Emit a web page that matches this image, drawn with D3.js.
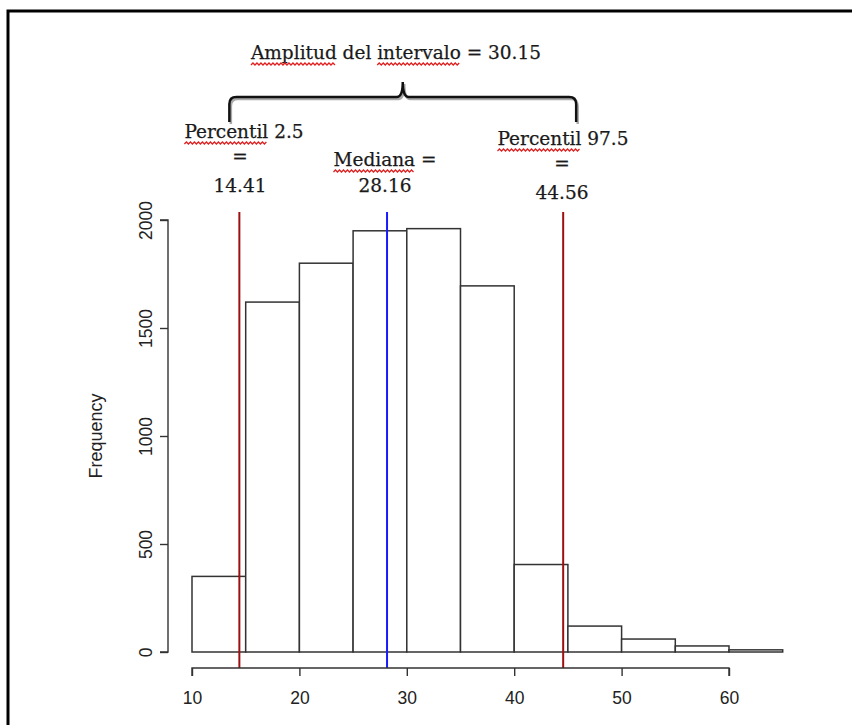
<!DOCTYPE html>
<html>
<head>
<meta charset="utf-8">
<script src="https://cdn.jsdelivr.net/npm/d3@7"></script>
<style>
  body { margin: 0; background: #fff; }
  svg { display: block; }
</style>
</head>
<body>
<svg id="chart"></svg>
<script>
// histogram bins (5 wide) and counts
const binStarts = [10, 15, 20, 25, 30, 35, 40, 45, 50, 55, 60]
const counts = [350, 1620, 1800, 1950, 1960, 1695, 405, 120, 60, 28, 10]
const binWidth = 5

const xTicks = [10, 20, 30, 40, 50, 60]
const yTicks = [0, 500, 1000, 1500, 2000]

// summary lines
const p025 = 14.41
const median = 28.16
const p975 = 44.56
const amplitude = 30.15

const width = 852
const height = 725

const svg = d3.select("#chart")
  .attr("width", width)
  .attr("height", height)

const x = d3.scaleLinear().domain([10, 60]).range([192, 729])
const y = d3.scaleLinear().domain([0, 2000]).range([652, 220])

const sans = "Liberation Sans, Arial, sans-serif"

// page frame (screenshot border)
svg.append("path")
  .attr("d", `M8,${height} V11 H${width}`)
  .attr("fill", "none")
  .attr("stroke", "#000")
  .attr("stroke-width", 3)

// bars
svg.append("g")
  .selectAll("rect")
  .data(binStarts.map((s, i) => ({ s, c: counts[i] })))
  .join("rect")
  .attr("x", d => x(d.s))
  .attr("y", d => y(d.c))
  .attr("width", d => x(d.s + binWidth) - x(d.s))
  .attr("height", d => y(0) - y(d.c))
  .attr("fill", "#fff")
  .attr("stroke", "#333")
  .attr("stroke-width", 1.5)

// vertical reference lines
const refLines = [
  { v: p025, color: "#9e1010" },
  { v: median, color: "#1a1aff" },
  { v: p975, color: "#9e1010" }
]
svg.append("g")
  .selectAll("line")
  .data(refLines)
  .join("line")
  .attr("x1", d => x(d.v))
  .attr("x2", d => x(d.v))
  .attr("y1", 212)
  .attr("y2", 668)
  .attr("stroke", d => d.color)
  .attr("stroke-width", 2)

// x axis
svg.append("g")
  .attr("transform", "translate(0, 668)")
  .call(d3.axisBottom(x).tickValues(xTicks).tickSize(8).tickPadding(16)
    .tickFormat(d3.format("d")))
  .call(g => g.attr("font-size", null).attr("font-family", null))
  .call(g => g.select(".domain").attr("stroke", "#333").attr("stroke-width", 1.4)
    .attr("d", `M${x(10)},8V0H${x(60)}V8`))
  .call(g => g.selectAll(".tick line").attr("stroke", "#333").attr("stroke-width", 1.4))
  .call(g => g.selectAll(".tick text")
    .style("font-family", sans)
    .style("font-size", "17.5px")
    .attr("fill", "#222"))

// y axis
svg.append("g")
  .attr("transform", "translate(168, 0)")
  .call(d3.axisLeft(y).tickValues(yTicks).tickSize(8).tickPadding(14)
    .tickFormat(d3.format("d")))
  .call(g => g.attr("font-size", null).attr("font-family", null))
  .call(g => g.select(".domain").attr("stroke", "#333").attr("stroke-width", 1.4)
    .attr("d", `M-8,${y(0)}H0V${y(2000)}H-8`))
  .call(g => g.selectAll(".tick line").attr("stroke", "#333").attr("stroke-width", 1.4))
  .call(g => g.selectAll(".tick text")
    .style("font-family", sans)
    .style("font-size", "17.5px")
    .attr("fill", "#222")
    .attr("text-anchor", "middle")
    .attr("dy", 0)
    .attr("x", 0)
    .attr("transform", "translate(-16, 0) rotate(-90)"))

svg.append("text")
  .attr("transform", `translate(102, ${y(1000)}) rotate(-90)`)
  .attr("text-anchor", "middle")
  .style("font-family", sans)
  .style("font-size", "18px")
  .attr("fill", "#222")
  .text("Frequency")

// brace over the interval
const braceL = x(p025) - 10
const braceR = x(p975) + 13
const braceM = (braceL + braceR) / 2
const bracePath = `M${braceL},122 V104 Q${braceL},97 ${braceL + 7},97 H${braceM - 6} ` +
  `Q${braceM},97 ${braceM},82 Q${braceM},97 ${braceM + 6},97 H${braceR - 7} ` +
  `Q${braceR},97 ${braceR},104 V122`
svg.append("path")
  .attr("d", bracePath)
  .attr("transform", "translate(1.5, 2)")
  .attr("fill", "none")
  .attr("stroke", "#aaa")
  .attr("stroke-width", 2.5)
svg.append("path")
  .attr("d", bracePath)
  .attr("fill", "none")
  .attr("stroke", "#111")
  .attr("stroke-width", 2.5)

// annotation text with red spell-check squiggles
const serif = "DejaVu Serif, Liberation Serif, serif"
const notes = [
  { t: "Amplitud del intervalo = " + amplitude.toFixed(2), cx: 396, by: 59, squig: ["Amplitud", "intervalo"] },
  { t: "Percentil 2.5", cx: 244, by: 138, squig: ["Percentil"] },
  { t: "=", cx: 240, by: 163, squig: [] },
  { t: p025.toFixed(2), cx: 240, by: 192, squig: [] },
  { t: "Mediana =", cx: 385, by: 166, squig: ["Mediana"] },
  { t: median.toFixed(2), cx: 385, by: 192, squig: [] },
  { t: "Percentil 97.5", cx: 563, by: 145, squig: ["Percentil"] },
  { t: "=", cx: 562, by: 170, squig: [] },
  { t: p975.toFixed(2), cx: 562, by: 199, squig: [] }
]

function squiggle(x0, x1, yy) {
  let d = `M${x0},${yy}`
  let up = true
  for (let xx = x0 + 2; xx <= x1; xx += 2) {
    d += ` L${xx},${yy + (up ? -2 : 0)}`
    up = !up
  }
  return d
}

notes.forEach(n => {
  const t = svg.append("text")
    .attr("x", n.cx)
    .attr("y", n.by)
    .attr("text-anchor", "middle")
    .style("font-family", serif)
    .style("font-size", "18.5px")
    .attr("fill", "#1a1a1a")
    .attr("stroke", "#1a1a1a")
    .attr("stroke-width", 0.25)
    .text(n.t)
  const node = t.node()
  const full = node.getComputedTextLength()
  const start = n.cx - full / 2
  n.squig.forEach(w => {
    const i = n.t.indexOf(w)
    const a = i > 0 ? node.getSubStringLength(0, i) : 0
    const b = node.getSubStringLength(0, i + w.length)
    svg.append("path")
      .attr("d", squiggle(start + a, start + b, n.by + 6))
      .attr("fill", "none")
      .attr("stroke", "#e02020")
      .attr("stroke-width", 1.3)
  })
})
</script>
</body>
</html>
